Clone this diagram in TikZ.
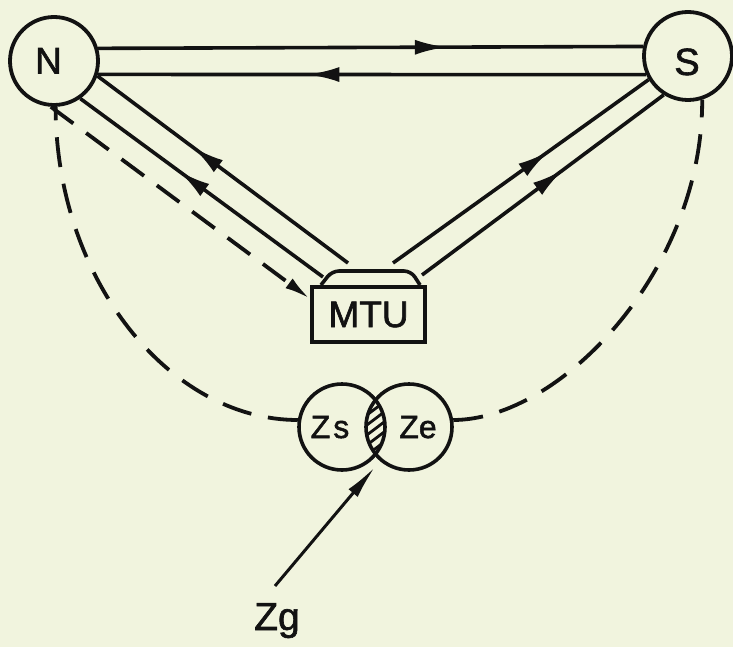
\documentclass[tikz,border=0pt]{standalone}
\usepackage{fontspec}
\setmainfont{Liberation Sans}
\newfontfamily\lettering{Liberation Sans}[FakeBold=1.6]
\usetikzlibrary{arrows.meta,decorations.markings,calc}
\definecolor{paper}{RGB}{241,244,222}
\definecolor{ink}{RGB}{18,18,18}
\begin{document}
\begin{tikzpicture}[x=1pt,y=-1pt,
  station/.style={circle,draw=ink,line width=3.8pt,minimum size=88pt,inner sep=0pt},
  zone/.style={circle,draw=ink,line width=3.6pt,minimum size=86pt,inner sep=0pt},
  lbl/.style={text=ink,inner sep=0pt,anchor=base},
  link/.style={draw=ink,color=ink,line width=3.6pt},
  midarrow/.style={postaction={decorate},decoration={markings,mark=at position #1 with {\arrow{Latex[length=32pt,width=15pt]}}}},
  dashA/.style={draw=ink,line width=3.8pt,dash pattern=on 28pt off 16pt},
  dashB/.style={draw=ink,line width=3.8pt,dash pattern=on 30pt off 17pt},
]
\fill[paper] (0,0) rectangle (733,647);
\useasboundingbox (0,0) rectangle (733,647);

% stations
\node[station] (N) at (54,61) {};
\node[station] (S) at (688,56) {};
\node[lbl,font=\lettering\fontsize{37}{37}\selectfont] (Nl) at (48.5,73.5) {N};
\node[lbl,font=\lettering\fontsize{38}{38}\selectfont] (Sl) at (687,75) {S};

% MTU box
\node[draw=ink,line width=4pt,minimum width=113pt,minimum height=55pt,inner sep=0pt,
      font=\lettering\fontsize{37}{37}\selectfont,text=ink] (mtu) at (368.5,314.5) {MTU};
\draw[ink,line width=3.6pt,rounded corners=7pt]
  ([xshift=11pt]mtu.north west) -- ([xshift=22pt,yshift=14pt]mtu.north west)
  -- ([xshift=-16pt,yshift=14pt]mtu.north east) -- ([xshift=-7pt]mtu.north east);

% zones
\node[zone] (Zs) at (342,427) {};
\node[zone] (Ze) at (409,427) {};
\begin{scope}
  \clip (Zs.center) circle[radius=43pt];
  \clip (Ze.center) circle[radius=43pt];
  \foreach \k in {-5,...,5}
    \draw[ink,line width=2.8pt] (355,{427+10*\k+17}) -- (400,{427+10*\k-17});
\end{scope}
\node[lbl,font=\lettering\fontsize{32}{32}\selectfont] (Zsl) at (330,438) {Z\kern3pt s};
\node[lbl,font=\lettering\fontsize{32}{32}\selectfont] (Zel) at (418,438) {Ze};
\node[lbl,font=\lettering\fontsize{39}{39}\selectfont] (zg) at (277,630) {Zg};

% free ends at the MTU
\coordinate (m1) at (348,263);
\coordinate (m2) at (323,277);
\coordinate (m3) at (393,263);
\coordinate (m4) at (422,275);
\coordinate (lensbot) at (375,467);

% N <-> S
\path[link,midarrow=0.64] (N.16.5) -- (S.168);
\path[link,midarrow=0.618] (S.204) -- (N.-17.8);
% MTU -> N
\path[link,midarrow=0.62] (m1) -- (N.-19.8);
\path[link,midarrow=0.594] (m2) -- (N.-55.9);
% MTU -> S
\path[link,midarrow=0.61] (m3) -- (S.211);
\path[link,midarrow=0.585] (m4) -- (S.238);

% dashed N -> MTU
\draw[dashA,-{Latex[length=26pt,width=12pt]}] (N.-94) -- (mtu.165);
% dashed arcs
\draw[dashB] (Zs.171) .. controls (170,420) and (56,280) .. (N.-88);
\draw[dashB] (Ze.9) .. controls (560,420) and (703,270) .. (S.-72);

% Zg arrow
\draw[ink,line width=3pt,-{Latex[length=34pt,width=12pt]}] ([xshift=-2pt,yshift=17pt]zg.north) -- (lensbot);
\end{tikzpicture}
\end{document}
